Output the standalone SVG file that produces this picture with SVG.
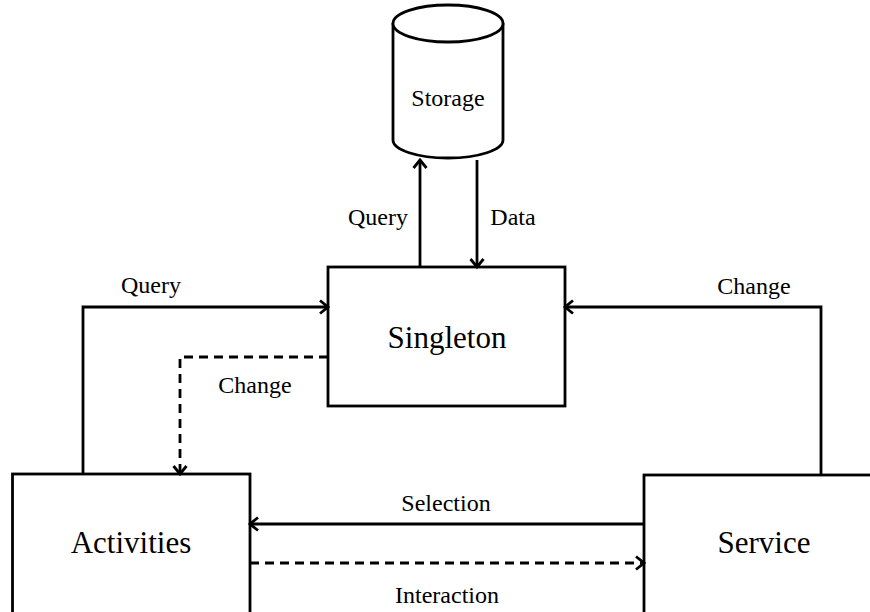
<svg xmlns="http://www.w3.org/2000/svg" width="870" height="612" viewBox="0 0 870 612">
  <style>
    .box { fill: #ffffff; stroke: #000000; stroke-width: 2.8; }
    .line { fill: none; stroke: #000000; stroke-width: 2.8; }
    .dash { stroke-dasharray: 9 6; }
    .lbl { font-family: "Liberation Serif", "Times New Roman", serif; font-size: 24px; fill: #000000; text-anchor: middle; }
    .big { font-family: "Liberation Serif", "Times New Roman", serif; font-size: 31px; fill: #000000; text-anchor: middle; }
  </style>
  <defs>
    <marker id="arr" markerUnits="userSpaceOnUse" markerWidth="14" markerHeight="16" refX="10" refY="7" orient="auto" viewBox="0 0 14 14">
      <path d="M2,0.5 L10,7 L2,13.5" fill="none" stroke="#000000" stroke-width="2.8"/>
    </marker>
  </defs>
  <rect width="870" height="612" fill="#ffffff"/>

  <g id="storage">
    <path class="box" d="M393,23 L393,140 A55,18 0 0 0 503,140 L503,23"/>
    <ellipse class="box" cx="448" cy="23.5" rx="55" ry="18.5"/>
    <text class="lbl" x="448" y="106">Storage</text>
  </g>

  <g id="singleton">
    <rect class="box" x="328" y="267" width="237" height="139"/>
    <text class="big" x="447" y="348">Singleton</text>
  </g>

  <g id="activities">
    <rect class="box" x="12.5" y="474" width="237.5" height="150"/>
    <text class="big" x="131" y="553">Activities</text>
  </g>

  <g id="service">
    <rect class="box" x="644" y="475" width="240" height="150"/>
    <text class="big" x="764" y="553">Service</text>
  </g>

  <g id="connectors">
    <line class="line" x1="420" y1="267" x2="420" y2="160" marker-end="url(#arr)"/>
    <line class="line" x1="477" y1="160" x2="477" y2="267" marker-end="url(#arr)"/>
    <polyline class="line" points="83,474 83,307 328,307" marker-end="url(#arr)"/>
    <polyline class="line dash" points="328,357 180,357 180,474" marker-end="url(#arr)"/>
    <polyline class="line" points="821,475 821,307 565,307" marker-end="url(#arr)"/>
    <line class="line" x1="644" y1="524" x2="250" y2="524" marker-end="url(#arr)"/>
    <line class="line dash" x1="250" y1="563" x2="644" y2="563" marker-end="url(#arr)"/>

    <text class="lbl" x="378" y="225">Query</text>
    <text class="lbl" x="513" y="225">Data</text>
    <text class="lbl" x="151" y="293">Query</text>
    <text class="lbl" x="754" y="294">Change</text>
    <text class="lbl" x="255" y="393">Change</text>
    <text class="lbl" x="446" y="511">Selection</text>
    <text class="lbl" x="447" y="603">Interaction</text>
  </g>
</svg>
